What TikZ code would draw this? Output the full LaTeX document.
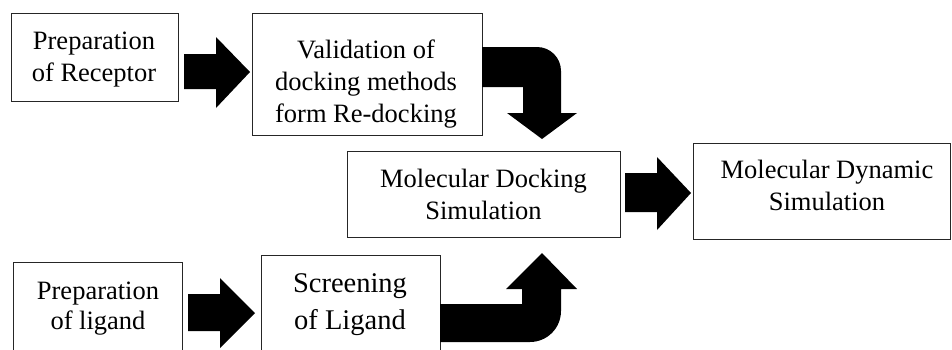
\documentclass[tikz,border=0pt]{standalone}
\usepackage{fontspec}
\setmainfont{Liberation Serif}
\begin{document}
\begin{tikzpicture}[x=1pt,y=-1pt,
  box/.style={draw=black!85, line width=0.9pt, inner sep=0pt},
  txt/.style={align=center, inner sep=0pt, font=\fontsize{26.5}{32}\selectfont},
  blk/.style={fill=black}]
\useasboundingbox (0,0) rectangle (952,349);
\clip (0,0) rectangle (952,349);
% boxes
\node[box, minimum width=167pt, minimum height=88pt] (b1) at (94.5,57) {};
\node[box, minimum width=230pt, minimum height=122pt] (b2) at (367,74) {};
\node[box, minimum width=273pt, minimum height=86pt] (b3) at (483.5,194) {};
\node[box, minimum width=257pt, minimum height=96pt] (b4) at (821.5,191) {};
\node[box, minimum width=169pt, minimum height=118pt] (b5) at (97.5,321) {};
\node[box, minimum width=179pt, minimum height=125pt] (b6) at (350.5,317.5) {};
% texts
\node[txt] (t1) at (94,60) {Preparation\\of Receptor};
\node[txt] (t2) at (366,84) {Validation of\\docking methods\\form Re-docking};
\node[txt] (t3) at (483.5,194) {Molecular Docking\\Simulation};
\node[txt] (t4) at (827,185) {Molecular Dynamic\\Simulation};
\node[txt, font=\fontsize{26.5}{30}\selectfont] (t5) at (98,309) {Preparation\\of ligand};
\node[txt, font=\fontsize{28.5}{37}\selectfont] (t6) at (350,305) {Screening\\of Ligand};
% block arrows
\fill[blk] (184,54) -- (216,54) -- (216,37) -- (250,72) -- (216,108) -- (216,89) -- (184,89) -- cycle;
\fill[blk] (482,47) -- (537,47) .. controls (550.3,47) and (561,57.7) .. (561,71)
  -- (561,113) -- (577,113) -- (542,139) -- (507,113) -- (523,113) -- (523,87) -- (482,87) -- cycle;
\fill[blk] (625,173) -- (657,173) -- (657,157) -- (691,193) -- (657,230) -- (657,212) -- (625,212) -- cycle;
\fill[blk] (188,294) -- (220,294) -- (220,278) -- (255,313) -- (220,348) -- (220,331) -- (188,331) -- cycle;
\fill[blk] (440,304) -- (522,304) -- (522,289) -- (506,289) -- (542,253) -- (577,289) -- (561,289)
  -- (561,311) .. controls (561,328.1) and (547.1,342) .. (530,342) -- (440,342) -- cycle;
\end{tikzpicture}
\end{document}
